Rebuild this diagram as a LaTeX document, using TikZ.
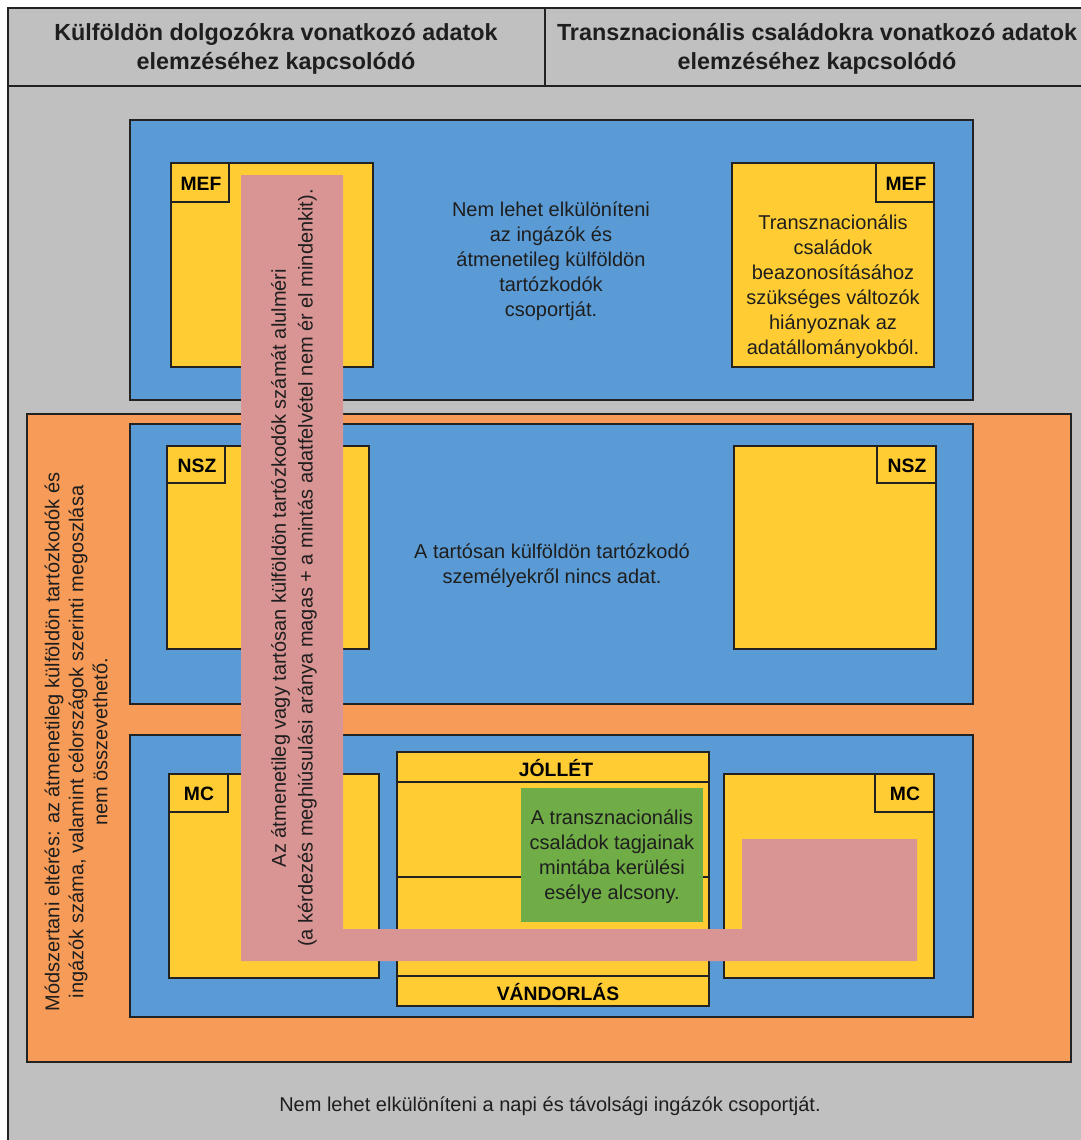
\documentclass[tikz,border=0pt]{standalone}
\usepackage{fontspec}
\setmainfont{Liberation Sans}
\definecolor{sheet}{HTML}{C0C0C0}
\definecolor{bluec}{HTML}{5B9BD5}
\definecolor{orangec}{HTML}{F79B58}
\definecolor{yellowc}{HTML}{FFCD33}
\definecolor{pinkc}{HTML}{D99594}
\definecolor{greenc}{HTML}{70AD47}
\definecolor{linec}{HTML}{222222}
\definecolor{txt}{HTML}{1E1E1E}
\begin{document}
\begin{tikzpicture}[x=0.75pt,y=-0.75pt,
  box/.style={draw=linec,line width=0.9pt},
  body/.style={font=\fontsize{15}{18.75}\selectfont, align=center, text=txt, inner sep=0pt},
  head/.style={font=\bfseries\fontsize{17.5}{22}\selectfont, align=center, text=txt, inner sep=0pt},
  tag/.style={font=\bfseries\fontsize{14.5}{17}\selectfont, text=black, inner sep=0pt},
]
\useasboundingbox (0,0) rectangle (1081,1140);
\begin{scope}
\clip (0,0) rectangle (1081,1140);
% sheet and header row
\fill[white] (0,0) rectangle (1081,1140);
\draw[box,fill=sheet] (8,8) rectangle (1089,1150);
\draw[box] (8,86) -- (1089,86);
\draw[box] (545,8) -- (545,86);
\node[head] (h1) at (276,49) {Külföldön dolgozókra vonatkozó adatok\\elemzéséhez kapcsolódó};
\node[head] (h2) at (817,49) {Transznacionális családokra vonatkozó adatok\\elemzéséhez kapcsolódó};

% MEF layer
\draw[box,fill=bluec] (130,120) rectangle (973,400);
% methodological band
\draw[box,fill=orangec] (27,414) rectangle (1071,1062);
% NSZ layer
\draw[box,fill=bluec] (130,424) rectangle (973,704);
% MC layer
\draw[box,fill=bluec] (130,735) rectangle (973,1017);

% data source boxes with their tags
\draw[box,fill=yellowc] (171,163) rectangle (373,367);
\draw[box] (171,163) rectangle (229,202);
\node[tag] (mefl) at (201,184) {MEF};
\draw[box,fill=yellowc] (732,163) rectangle (934,367);
\draw[box] (876,163) rectangle (934,202);
\node[tag] (mefr) at (906,184) {MEF};

\draw[box,fill=yellowc] (167,446) rectangle (369,649);
\draw[box] (167,446) rectangle (225,483);
\node[tag] (nszl) at (197,466) {NSZ};
\draw[box,fill=yellowc] (734,446) rectangle (936,649);
\draw[box] (877,446) rectangle (936,483);
\node[tag] (nszr) at (907,466) {NSZ};

\draw[box,fill=yellowc] (169,774) rectangle (379,978);
\draw[box] (169,774) rectangle (228,812);
\node[tag] (mcl) at (199,794) {MC};
\draw[box,fill=yellowc] (724,774) rectangle (934,978);
\draw[box] (875,774) rectangle (934,812);
\node[tag] (mcr) at (905,794) {MC};

% wellbeing / migration box
\draw[box,fill=yellowc] (397,752) rectangle (709,1006);
\draw[box] (397,782) -- (709,782);
\draw[box] (397,877) -- (709,877);
\draw[box] (397,976) -- (709,976);
\node[tag] (jollet) at (556,768) {JÓLLÉT};
\node[tag] (vandor) at (558,992) {VÁNDORLÁS};

% layer notes
\node[body] (t1) at (551,261) {Nem lehet elkülöníteni\\az ingázók és\\átmenetileg külföldön\\tartózkodók\\csoportját.};
\node[body] (t2) at (833,287) {Transznacionális\\családok\\beazonosításához\\szükséges változók\\hiányoznak az\\adatállományokból.};
\node[body] (t3) at (552,566) {A tartósan külföldön tartózkodó\\személyekről nincs adat.};
\node[body] (t4) at (550,1106) {Nem lehet elkülöníteni a napi és távolsági ingázók csoportját.};
\node[body,rotate=90,font=\fontsize{15}{18}\selectfont] (t5) at (76,742)
  {Módszertani eltérés: az átmenetileg külföldön tartózkodók és\\ingázók száma, valamint célországok szerinti megoszlása\\nem összevethető.};

% sampling note
\fill[greenc] (521,788) rectangle (703,922);
\node[body] (t6) at (612,857) {A transznacionális\\családok tagjainak\\mintába kerülési\\esélye alcsony.};

% undercoverage band
\fill[pinkc] (241,175) -- (343,175) -- (343,929) -- (742,929) -- (742,839)
  -- (917,839) -- (917,961) -- (241,961) -- cycle;
\node[body,rotate=90,font=\fontsize{15}{20}\selectfont] (t7) at (294,568)
  {Az átmenetileg vagy tartósan külföldön tartózkodók számát alulméri\\(a kérdezés meghiúsulási aránya magas + a mintás adatfelvétel nem ér el mindenkit).};
\end{scope}
\end{tikzpicture}
\end{document}
